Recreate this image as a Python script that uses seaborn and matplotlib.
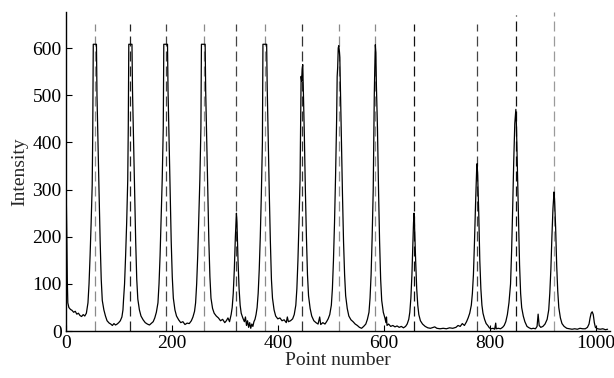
import seaborn as sns
import matplotlib.pyplot as plt

# spectrum (point number -> intensity)
point_number = [
    0, 1, 2, 3, 4, 6, 9, 12, 15, 18, 21, 24, 27, 30, 33, 36,
    39, 42, 44, 46, 48, 50, 51, 52, 58, 59, 61, 63, 65, 67, 69, 72, 75, 78, 82, 85, 88, 91, 94, 97, 100, 103, 106, 108,
    109, 111, 113, 115, 117, 118, 119, 125, 126, 128, 130, 132, 134, 136, 139, 142, 146, 150, 154, 158, 162, 165, 168, 171, 174,
    176, 178, 180, 182, 184, 185, 192, 193, 195, 197, 199, 201, 203, 206, 209, 213, 217, 221, 225, 229, 233, 237, 240, 243, 245,
    247, 249, 251, 253, 255, 256, 263, 264, 266, 268, 270, 272, 274, 277, 280, 284, 288, 292, 296, 300, 303, 306, 309, 312,
    314, 316, 318, 320, 322, 323, 325, 327, 329, 331, 334, 337, 339, 341, 343, 345, 347, 349, 351, 353, 355, 357, 359, 361, 363,
    365, 367, 369, 371, 372, 379, 380, 382, 384, 386, 388, 390, 393, 396, 400, 404, 408, 412, 416, 418, 420, 424, 428, 431, 434,
    436, 438, 440, 442, 443, 444, 445, 446, 447, 448, 450, 452, 454, 456, 458, 461, 464, 468, 472, 476, 479, 481, 485, 489, 492, 495, 498, 501,
    503, 505, 507, 509, 511, 512, 513, 514, 515, 516, 517, 518, 520, 522, 524, 526, 528, 531, 534, 538, 542, 546, 550, 554, 558, 562, 566, 569, 572,
    574, 576, 578, 580, 581, 582, 583, 584, 585, 586, 588, 590, 592, 594, 596, 599, 602, 604, 605, 606, 609, 613, 617, 621, 625, 629, 633, 637, 641, 644, 647, 649,
    651, 653, 655, 656, 657, 658, 660, 662, 664, 666, 669, 673, 678, 683, 688, 693, 696, 700, 706, 712, 718, 724, 730, 736, 740, 744, 748, 752, 756, 759, 762, 765, 767,
    769, 771, 773, 775, 776, 777, 779, 781, 783, 785, 787, 790, 793, 796, 799, 802, 806, 809, 811, 812, 816, 820, 824, 827, 830, 833, 836,
    839, 841, 843, 845, 847, 849, 850, 852, 854, 856, 858, 860, 863, 866, 870, 874, 878, 882, 886, 889, 891, 893, 896, 900, 904, 908, 911,
    913, 915, 917, 919, 921, 922, 924, 926, 928, 930, 933, 936, 940, 945, 950, 955, 960, 965, 970, 975, 980, 984, 987, 989, 991, 993, 995, 997, 999, 1003, 1008, 1013, 1018, 1022,
]
intensity = [
    0, 290, 210, 110, 60, 50, 46, 44, 40, 42, 36, 38, 33, 31, 35, 32,
    38, 60, 100, 160, 230, 310, 420, 608, 608, 500, 390, 290, 190, 110, 65, 45, 32, 22, 17, 15, 12, 16, 13, 15, 18, 22, 30, 45,
    65, 100, 160, 230, 320, 430, 608, 608, 510, 400, 290, 190, 110, 68, 45, 32, 24, 18, 15, 13, 17, 20, 28, 40, 60,
    100, 160, 240, 320, 430, 608, 608, 510, 400, 290, 190, 115, 70, 45, 32, 24, 18, 20, 14, 17, 16, 22, 30, 42, 60,
    100, 160, 240, 320, 430, 608, 608, 510, 400, 290, 190, 115, 70, 48, 38, 32, 28, 22, 25, 18, 22, 28, 20, 35,
    50, 80, 130, 200, 250, 230, 150, 90, 55, 38, 28, 20, 30, 12, 22, 8, 18, 6, 15, 10, 20, 25, 35, 50, 80,
    130, 200, 290, 400, 608, 608, 520, 400, 290, 190, 110, 70, 45, 32, 26, 28, 22, 24, 18, 30, 20, 22, 26, 35, 55,
    90, 150, 230, 320, 420, 540, 530, 555, 565, 520, 420, 300, 200, 120, 75, 48, 32, 22, 18, 15, 30, 14, 18, 15, 20, 26, 35, 55,
    90, 150, 230, 330, 450, 540, 560, 600, 605, 595, 580, 520, 400, 290, 190, 120, 75, 48, 32, 24, 20, 15, 12, 8, 6, 10, 15, 25, 40,
    70, 120, 200, 300, 400, 500, 560, 607, 590, 520, 430, 300, 190, 110, 65, 40, 28, 18, 30, 12, 15, 10, 12, 9, 11, 8, 10, 7, 10, 15, 25, 40,
    70, 120, 190, 230, 250, 220, 150, 90, 55, 35, 22, 15, 10, 7, 6, 8, 9, 6, 5, 6, 5, 7, 6, 8, 12, 10, 16, 12, 20, 28, 38, 55, 80,
    120, 190, 270, 340, 355, 330, 250, 150, 90, 55, 38, 25, 16, 12, 7, 5, 6, 4, 17, 5, 6, 5, 8, 12, 20, 35, 60,
    100, 170, 260, 360, 440, 470, 440, 340, 230, 140, 80, 50, 32, 20, 10, 7, 5, 6, 5, 10, 36, 12, 8, 10, 15, 25, 45,
    80, 130, 200, 260, 295, 280, 220, 140, 85, 50, 28, 16, 10, 6, 5, 4, 5, 4, 6, 5, 5, 8, 15, 28, 38, 41, 35, 18, 8, 5, 4, 5, 3, 4,
]

# dashed marker lines at the peak positions
peak_positions = [55, 122, 189, 260, 322, 375, 446, 515, 584, 657, 776, 849, 921]
peak_line_tops = [651, 651, 651, 651, 651, 651, 651, 651, 651, 651, 651, 670, 677]
peak_line_colors = ['#8a8a8a', '#222222', '#444444', '#8a8a8a', '#444444', '#8a8a8a', '#333333',
                    '#8a8a8a', '#8a8a8a', '#111111', '#444444', '#111111', '#9a9a9a']

sns.set_style('ticks')
plt.rcParams['font.family'] = ['Liberation Serif', 'DejaVu Serif']

fig = plt.figure(figsize=(6.14, 3.78), dpi=100)
ax = fig.add_axes([0.107, 0.124, 0.886, 0.845])

for pos, top, col in zip(peak_positions, peak_line_tops, peak_line_colors):
    ax.vlines(pos, 0, top, colors=col, linewidth=0.9, linestyles=(0, (8, 4)))

sns.lineplot(x=point_number, y=intensity, color='black', linewidth=0.9, ax=ax, estimator=None)

ax.set_xlim(0, 1026)
ax.set_ylim(0, 677)
ax.set_xticks([0, 200, 400, 600, 800, 1000])
ax.set_yticks([0, 100, 200, 300, 400, 500, 600])
ax.tick_params(direction='in', length=4, width=0.8, labelsize=14, colors='black', pad=3)
ax.set_xlabel('Point number', fontsize=14, labelpad=0)
ax.set_ylabel('Intensity', fontsize=14, labelpad=3)
sns.despine(ax=ax)
for side in ['left', 'bottom']:
    ax.spines[side].set_color('black')
    ax.spines[side].set_linewidth(1.0)

fig.savefig('out.png', dpi=100)
